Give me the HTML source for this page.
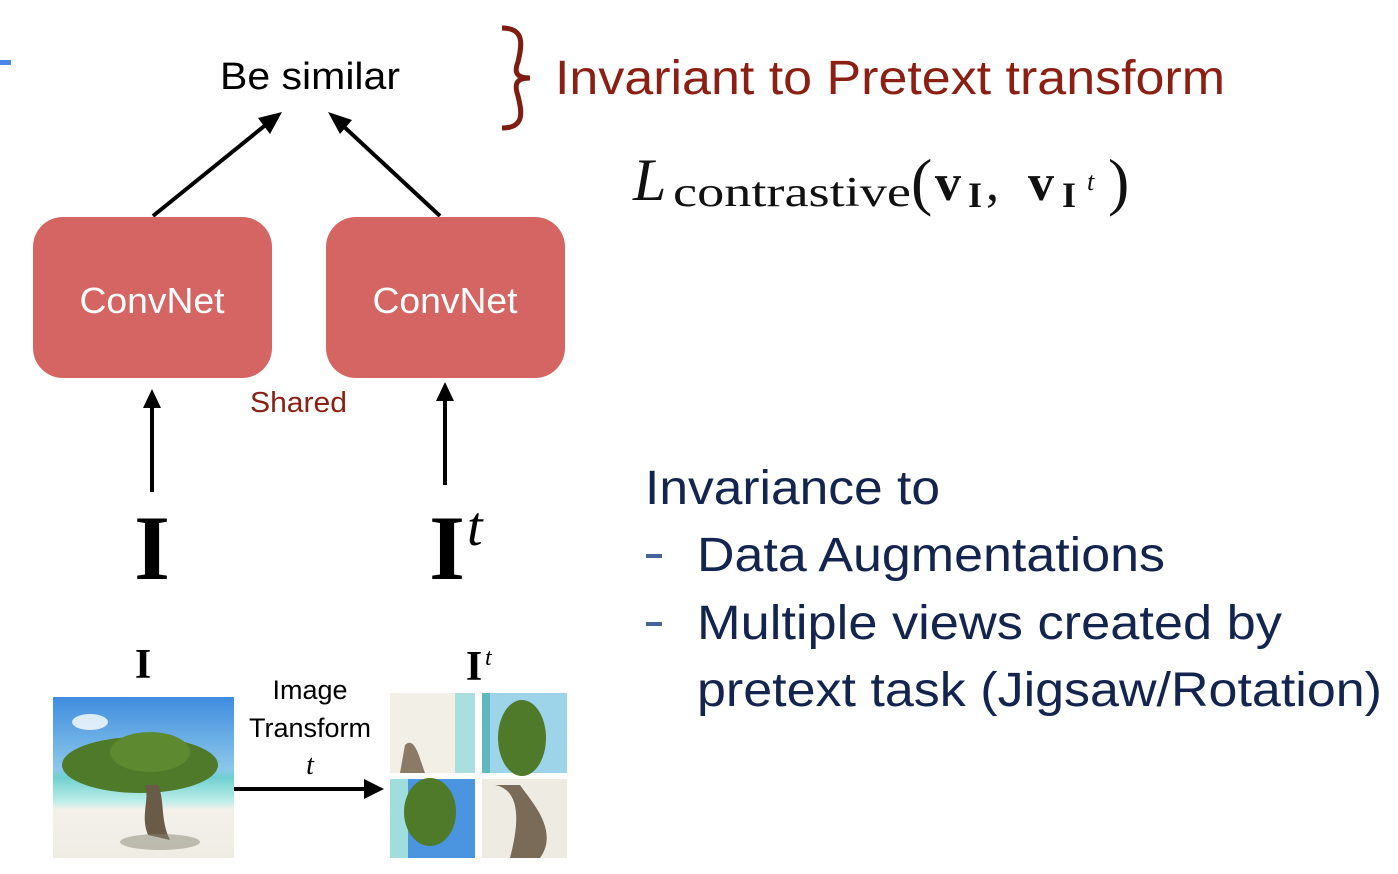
<!DOCTYPE html>
<html><head><meta charset="utf-8"><style>
html,body{margin:0;padding:0;background:#fff;}
svg{display:block;}
</style></head><body>
<svg width="1398" height="874" viewBox="0 0 1398 874" xmlns="http://www.w3.org/2000/svg">
<defs>
<linearGradient id="sky" x1="0" y1="0" x2="0" y2="1">
<stop offset="0" stop-color="#3f8de0"/><stop offset="0.45" stop-color="#8cc7ea"/><stop offset="0.5" stop-color="#6fd0d0"/><stop offset="0.65" stop-color="#bfeee8"/><stop offset="0.7" stop-color="#f3f1ea"/><stop offset="1" stop-color="#efece4"/>
</linearGradient>
</defs>
<rect x="0" y="60" width="11" height="5" fill="#4a86e8"/>
<text x="310" y="89" font-family="Liberation Sans, sans-serif" font-size="38" text-anchor="middle" fill="#000" textLength="180" lengthAdjust="spacingAndGlyphs">Be similar</text>
<path d="M502,28 C525,28 522,45 518,62 C514,72 516,78 530,78 C516,78 514,84 518,96 C522,112 525,128 502,128" fill="none" stroke="#7e1e12" stroke-width="5"/>
<text x="555" y="94" font-family="Liberation Sans, sans-serif" font-size="48" fill="#8b1f13" textLength="670" lengthAdjust="spacingAndGlyphs">Invariant to Pretext transform</text>
<line x1="153" y1="216" x2="268" y2="123" stroke="#000" stroke-width="4"/>
<polygon points="282,112 258,118 270,134" fill="#000"/>
<line x1="440" y1="216" x2="340" y2="123" stroke="#000" stroke-width="4"/>
<polygon points="328,112 340,134 352,120" fill="#000"/>
<text x="633" y="200" font-family="Liberation Serif, serif" font-style="italic" font-size="60" fill="#111">L</text>
<text x="673" y="206" font-family="Liberation Serif, serif" font-size="42" fill="#111" textLength="238" lengthAdjust="spacingAndGlyphs">contrastive</text>
<text x="911" y="203" font-family="Liberation Serif, serif" font-size="64" fill="#111">(</text>
<text x="935" y="200" font-family="Liberation Serif, serif" font-weight="bold" font-size="52" fill="#111">v</text>
<text x="968" y="207" font-family="Liberation Serif, serif" font-weight="bold" font-size="36" fill="#111">I</text>
<text x="986" y="200" font-family="Liberation Serif, serif" font-size="52" fill="#111">,</text>
<text x="1028" y="200" font-family="Liberation Serif, serif" font-weight="bold" font-size="52" fill="#111">v</text>
<text x="1062" y="207" font-family="Liberation Serif, serif" font-weight="bold" font-size="36" fill="#111">I</text>
<text x="1087" y="190" font-family="Liberation Serif, serif" font-style="italic" font-size="26" fill="#111">t</text>
<text x="1108" y="203" font-family="Liberation Serif, serif" font-size="64" fill="#111">)</text>
<rect x="33" y="217" width="239" height="161" rx="30" fill="#d46562"/>
<rect x="326" y="217" width="239" height="161" rx="30" fill="#d46562"/>
<text x="152" y="313" font-family="Liberation Sans, sans-serif" font-size="36" text-anchor="middle" fill="#fff" textLength="145" lengthAdjust="spacingAndGlyphs">ConvNet</text>
<text x="445" y="313" font-family="Liberation Sans, sans-serif" font-size="36" text-anchor="middle" fill="#fff" textLength="145" lengthAdjust="spacingAndGlyphs">ConvNet</text>
<text x="250" y="412" font-family="Liberation Sans, sans-serif" font-size="29" fill="#8b1f13" textLength="97" lengthAdjust="spacingAndGlyphs">Shared</text>
<line x1="152" y1="492" x2="152" y2="405" stroke="#000" stroke-width="4"/>
<polygon points="152,389 143,408 161,408" fill="#000"/>
<line x1="445" y1="485" x2="445" y2="398" stroke="#000" stroke-width="4"/>
<polygon points="445,382 436,401 454,401" fill="#000"/>
<text x="152" y="579" font-family="Liberation Serif, serif" font-weight="bold" font-size="92" text-anchor="middle" fill="#000">I</text>
<text x="447" y="579" font-family="Liberation Serif, serif" font-weight="bold" font-size="92" text-anchor="middle" fill="#000">I</text>
<text x="467" y="545" font-family="Liberation Serif, serif" font-style="italic" font-size="56" fill="#000">t</text>
<text x="143" y="678" font-family="Liberation Serif, serif" font-weight="bold" font-size="42" text-anchor="middle" fill="#000">I</text>
<text x="474" y="680" font-family="Liberation Serif, serif" font-weight="bold" font-size="42" text-anchor="middle" fill="#000">I</text>
<text x="485" y="665" font-family="Liberation Serif, serif" font-style="italic" font-size="24" fill="#000">t</text>
<rect x="53" y="697" width="181" height="161" fill="url(#sky)"/>
<ellipse cx="90" cy="722" rx="18" ry="8" fill="#fff" opacity="0.8"/>
<ellipse cx="200" cy="760" rx="14" ry="6" fill="#fff" opacity="0.8"/>
<ellipse cx="140" cy="765" rx="78" ry="28" fill="#4f7a2a"/>
<ellipse cx="150" cy="752" rx="40" ry="20" fill="#5d8a30"/>
<path d="M145,785 C150,800 140,815 148,835 L170,840 C160,820 165,800 158,785 Z" fill="#6a5a48"/>
<ellipse cx="160" cy="842" rx="40" ry="8" fill="#8a8576" opacity="0.5"/>
<rect x="390" y="693" width="85" height="80" fill="#f1efe6"/>
<rect x="455" y="693" width="20" height="80" fill="#a9e0df"/>
<path d="M405,745 C415,735 420,760 425,773 L400,773 Z" fill="#8a7a66"/>
<rect x="482" y="693" width="85" height="80" fill="#9dd4ea"/>
<ellipse cx="522" cy="738" rx="24" ry="38" fill="#4f7a2a"/>
<rect x="482" y="693" width="8" height="80" fill="#5fb7bf"/>
<rect x="390" y="779" width="85" height="79" fill="#4a94e0"/>
<rect x="390" y="779" width="18" height="79" fill="#a0dede"/>
<ellipse cx="430" cy="812" rx="26" ry="34" fill="#4f7a2a"/>
<rect x="482" y="779" width="85" height="79" fill="#eeebe2"/>
<path d="M495,785 C520,790 520,820 510,858 L540,858 C560,830 530,800 520,785 Z" fill="#7a6a58"/>
<text x="310" y="699" font-family="Liberation Sans, sans-serif" font-size="27" text-anchor="middle" fill="#000">Image</text>
<text x="310" y="737" font-family="Liberation Sans, sans-serif" font-size="27" text-anchor="middle" fill="#000">Transform</text>
<text x="310" y="774" font-family="Liberation Serif, serif" font-style="italic" font-size="28" text-anchor="middle" fill="#000">t</text>
<line x1="234" y1="789" x2="366" y2="789" stroke="#000" stroke-width="4"/>
<polygon points="384,789 364,779 364,799" fill="#000"/>
<g font-family="Liberation Sans, sans-serif" font-size="48" fill="#13254f">
<text x="645" y="504" textLength="295" lengthAdjust="spacingAndGlyphs">Invariance to</text>
<rect x="646" y="554" width="16" height="4" fill="#47619a"/>
<text x="697" y="571" textLength="468" lengthAdjust="spacingAndGlyphs">Data Augmentations</text>
<rect x="646" y="622" width="16" height="4" fill="#47619a"/>
<text x="697" y="639" textLength="585" lengthAdjust="spacingAndGlyphs">Multiple views created by</text>
<text x="697" y="706" textLength="685" lengthAdjust="spacingAndGlyphs">pretext task (Jigsaw/Rotation)</text>
</g>
</svg>
</body></html>
